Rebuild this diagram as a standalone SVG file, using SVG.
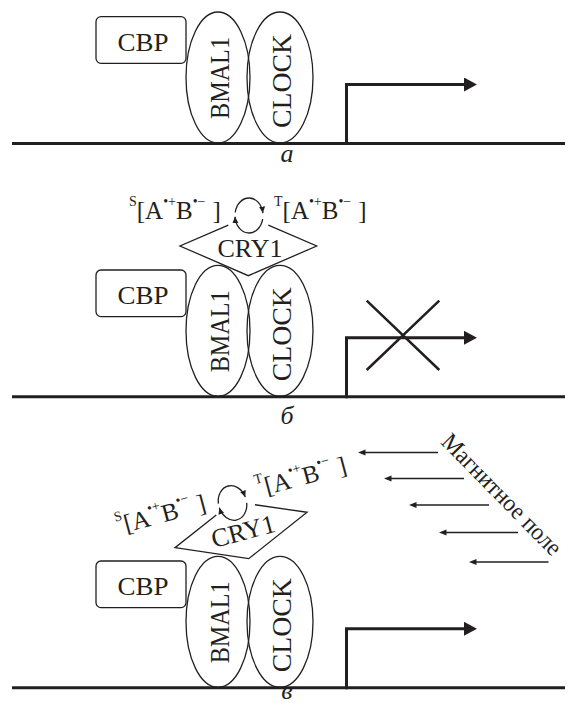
<svg xmlns="http://www.w3.org/2000/svg" width="576" height="705" viewBox="0 0 576 705">
<style>
.o{fill:none;stroke:#231f20;stroke-width:1.3}
.dna{fill:none;stroke:#231f20;stroke-width:3}
.tx{fill:none;stroke:#231f20;stroke-width:3;stroke-linejoin:miter}
.xx{fill:none;stroke:#231f20;stroke-width:2.5}
.mf{fill:none;stroke:#231f20;stroke-width:1.4}
.cy{fill:none;stroke:#231f20;stroke-width:1.3}
text{font-family:"Liberation Serif","Times New Roman",serif;fill:#231f20}
.lab{font-size:25px}
.sup{font-size:14px}
.pl{font-size:26px;font-style:italic}
.pr{font-size:28px}
.cry{font-size:26px}
.mag{font-size:24.5px}
.cbp{font-size:25px}
</style>
<defs>
<marker id="big" markerUnits="userSpaceOnUse" markerWidth="14" markerHeight="15" refX="2" refY="7" orient="auto"><path d="M0,0 L13,7 L0,14 Z" fill="#231f20"/></marker>
<marker id="small" markerUnits="userSpaceOnUse" markerWidth="8" markerHeight="7" refX="2" refY="3" orient="auto"><path d="M0,0 L7.5,3 L0,6 Z" fill="#231f20"/></marker>
<marker id="cyc" markerUnits="userSpaceOnUse" markerWidth="8" markerHeight="7" refX="6.5" refY="3" orient="auto"><path d="M0,0 L6.5,3 L0,6 Z" fill="#231f20"/></marker>
</defs>

<!-- DNA lines -->
<g id="dna">
<path class="dna" d="M12,143.5 H565"/>
<path class="dna" d="M12,396.8 H565"/>
<path class="dna" d="M12,687.8 H565"/>
</g>

<!-- Panel a -->
<g id="panel-a">
<g id="cbp-a"><rect class="o" x="96" y="16.7" width="90" height="46.6" rx="5"/><text class="cbp" x="117.5" y="50.5" textLength="51" lengthAdjust="spacingAndGlyphs">CBP</text></g>
<g id="bmal1-a"><ellipse class="o" cx="218" cy="77.5" rx="32" ry="65.5"/><text class="pr" x="0" y="0" textLength="82" lengthAdjust="spacingAndGlyphs" transform="translate(228.8,119) rotate(-90)">BMAL1</text></g>
<g id="clock-a"><ellipse class="o" cx="280" cy="77.5" rx="33" ry="65.5"/><text class="pr" x="0" y="0" textLength="94" lengthAdjust="spacingAndGlyphs" transform="translate(290.5,128) rotate(-90)">CLOCK</text></g>
<text class="pl" x="287" y="162" text-anchor="middle">а</text>
</g>

<!-- Panel b -->
<g id="panel-b">
<g id="cbp-b"><rect class="o" x="96" y="270" width="90" height="46.6" rx="5"/><text class="cbp" x="117.5" y="303.8" textLength="51" lengthAdjust="spacingAndGlyphs">CBP</text></g>
<g id="bmal1-b"><ellipse class="o" cx="218" cy="330.8" rx="32" ry="65.5"/><text class="pr" x="0" y="0" textLength="82" lengthAdjust="spacingAndGlyphs" transform="translate(228.8,372.3) rotate(-90)">BMAL1</text></g>
<g id="clock-b"><ellipse class="o" cx="280" cy="330.8" rx="33" ry="65.5"/><text class="pr" x="0" y="0" textLength="94" lengthAdjust="spacingAndGlyphs" transform="translate(290.5,381.3) rotate(-90)">CLOCK</text></g>
<g id="cry1-b"><path class="o" d="M228.3,225.2 L180,246 L248.3,275.7 L316.7,246 L268.3,225.2"/><text class="cry" x="250" y="256.5" text-anchor="middle">CRY1</text></g>
<g id="singlet-b"><text class="lab" x="129" y="218.5"><tspan class="sup" dy="-13">S</tspan><tspan dy="13">[A</tspan><tspan class="sup" dy="-13">•+</tspan><tspan dy="13">B</tspan><tspan class="sup" dy="-13">•−</tspan><tspan dx="7" dy="13">]</tspan></text></g>
<g id="triplet-b"><text class="lab" x="274" y="218.5"><tspan class="sup" dy="-13">T</tspan><tspan dy="13">[A</tspan><tspan class="sup" dy="-13">•+</tspan><tspan dy="13">B</tspan><tspan class="sup" dy="-13">•−</tspan><tspan dx="7" dy="13">]</tspan></text></g>
<text class="pl" x="287" y="424" text-anchor="middle">б</text>
</g>

<!-- Panel c -->
<g id="panel-c">
<g id="cbp-c"><rect class="o" x="96" y="561" width="90" height="46.6" rx="5"/><text class="cbp" x="117.5" y="594.8" textLength="51" lengthAdjust="spacingAndGlyphs">CBP</text></g>
<g id="bmal1-c"><ellipse class="o" cx="218" cy="621.8" rx="32" ry="65.5"/><text class="pr" x="0" y="0" textLength="82" lengthAdjust="spacingAndGlyphs" transform="translate(228.8,663.3) rotate(-90)">BMAL1</text></g>
<g id="clock-c"><ellipse class="o" cx="280" cy="621.8" rx="33" ry="65.5"/><text class="pr" x="0" y="0" textLength="94" lengthAdjust="spacingAndGlyphs" transform="translate(290.5,672.3) rotate(-90)">CLOCK</text></g>
<g transform="translate(241,530) rotate(-15) translate(-248.3,-246)">
<g id="cry1-c"><path class="o" d="M228.3,225.2 L180,246 L248.3,275.7 L316.7,246 L268.3,225.2"/><text class="cry" x="250" y="256.5" text-anchor="middle">CRY1</text></g>
<g id="singlet-c"><text class="lab" x="129" y="218.5"><tspan class="sup" dy="-13">S</tspan><tspan dy="13">[A</tspan><tspan class="sup" dy="-13">•+</tspan><tspan dy="13">B</tspan><tspan class="sup" dy="-13">•−</tspan><tspan dx="7" dy="13">]</tspan></text></g>
<g id="triplet-c"><text class="lab" x="274" y="218.5"><tspan class="sup" dy="-13">T</tspan><tspan dy="13">[A</tspan><tspan class="sup" dy="-13">•+</tspan><tspan dy="13">B</tspan><tspan class="sup" dy="-13">•−</tspan><tspan dx="7" dy="13">]</tspan></text></g>
</g>
<g id="field-label"><text class="mag" x="0" y="0" textLength="160" lengthAdjust="spacingAndGlyphs" transform="translate(440,443) rotate(45.5)">Магнитное поле</text></g>
<text class="pl" x="287" y="699" text-anchor="middle">в</text>
</g>

<!-- Connectors -->
<g id="connectors">
<path class="tx" d="M346.5,145 V84.5 H466" marker-end="url(#big)"/>
<path class="tx" d="M346.5,398.3 V337.8 H466" marker-end="url(#big)"/>
<path class="tx" d="M346.5,689.3 V628.8 H466" marker-end="url(#big)"/>
<path class="xx" d="M366.7,300.7 L439.3,370 M439.3,300.7 L366.7,370"/>
<path class="cy" d="M235.2,212.5 A14,17.5 0 0 1 262.86,213.06" marker-end="url(#cyc)"/>
<path class="cy" d="M262.7,219.1 A14,17.5 0 0 1 235.03,216.7" marker-end="url(#cyc)"/>
<g transform="translate(241,530) rotate(-15) translate(-250.2,-243.8)">
<path class="cy" d="M235.2,212.5 A14,17.5 0 0 1 262.86,213.06" marker-end="url(#cyc)"/>
<path class="cy" d="M262.7,219.1 A14,17.5 0 0 1 235.03,216.7" marker-end="url(#cyc)"/>
</g>
<path class="mf" d="M438,452.5 H363.5" marker-end="url(#small)"/>
<path class="mf" d="M464,478.5 H389.5" marker-end="url(#small)"/>
<path class="mf" d="M489,505 H414.5" marker-end="url(#small)"/>
<path class="mf" d="M518,532.5 H444.5" marker-end="url(#small)"/>
<path class="mf" d="M548.5,562 H474.5" marker-end="url(#small)"/>
</g>
</svg>
